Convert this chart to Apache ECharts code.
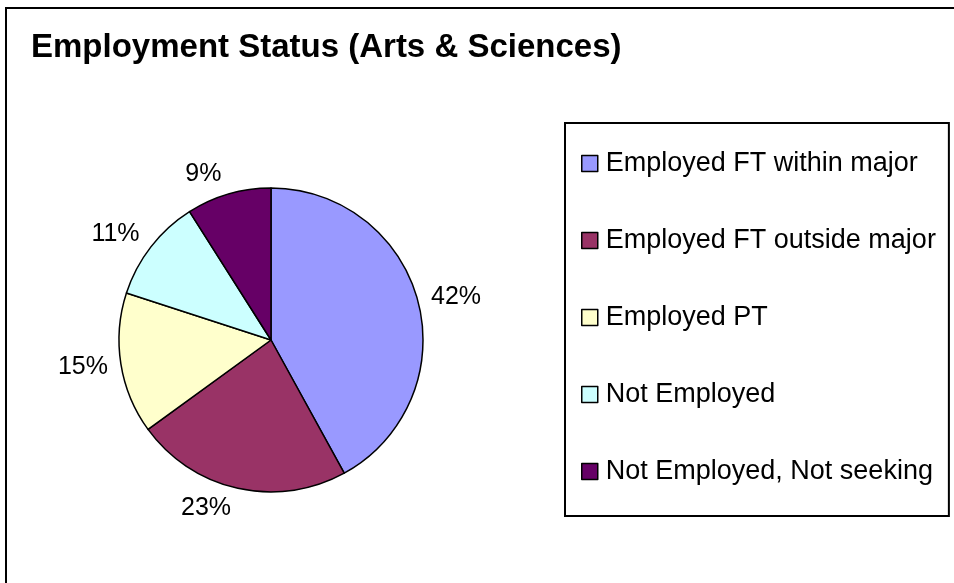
<!DOCTYPE html>
<html>
<head>
<meta charset="utf-8">
<script src="https://cdn.jsdelivr.net/npm/echarts@6/dist/echarts.min.js"></script>
<style>
  html, body { margin: 0; padding: 0; background: #fff; }
  #chart { width: 954px; height: 583px; }
</style>
</head>
<body>
<div id="chart"></div>
<script>
// data
const categories = [
  'Employed FT within major',
  'Employed FT outside major',
  'Employed PT',
  'Not Employed',
  'Not Employed, Not seeking'
]
const shares = [42, 23, 15, 11, 9]
const colors = ['#9999FF', '#993366', '#FFFFCC', '#CCFFFF', '#660066']

const total = shares.reduce((a, b) => a + b, 0)
// mid angle of each slice (clockwise from 12 o'clock), used to nudge labels off the rim like Excel does
const midAngle = (i) => {
  let before = 0
  for (let k = 0; k < i; k++) before += shares[k]
  return (before + shares[i] / 2) / total * Math.PI * 2
}

const myChart = echarts.init(document.getElementById('chart'))
const font = "'Liberation Sans', Arial, sans-serif"

const options = {
  animation: false,
  color: colors,
  title: {
    text: 'Employment Status (Arts & Sciences)',
    left: 31,
    top: 31,
    padding: 0,
    textStyle: { fontFamily: font, fontSize: 33, fontWeight: 'bold', color: '#000', lineHeight: 33 }
  },
  legend: {
    orient: 'vertical',
    left: 565,
    top: 123,
    padding: [27, 13, 31, 16],
    borderColor: '#000',
    borderWidth: 2,
    itemWidth: 16,
    itemHeight: 16,
    itemGap: 50,
    icon: 'rect',
    selectedMode: false,
    itemStyle: { borderColor: '#000', borderWidth: 1.5 },
    textStyle: { fontFamily: font, fontSize: 27, lineHeight: 27, color: '#000', padding: [0, 0, 0, 3] },
    data: categories
  },
  graphic: [
    {
      type: 'rect',
      shape: { x: 6, y: 8, width: 1200, height: 1200 },
      style: { fill: 'none', stroke: '#000', lineWidth: 2 },
      silent: true
    }
  ],
  series: [
    {
      type: 'pie',
      center: [271, 340],
      radius: 152,
      startAngle: 90,
      clockwise: true,
      avoidLabelOverlap: false,
      itemStyle: { borderColor: '#000', borderWidth: 1.5 },
      label: {
        show: true,
        position: 'outside',
        formatter: '{d}%',
        fontFamily: font,
        fontSize: 25,
        color: '#000'
      },
      labelLine: { show: false, length: 8, length2: 0 },
      labelLayout: (p) => {
        const a = midAngle(p.dataIndex)
        return { dy: -Math.cos(a) * p.labelRect.height / 2 }
      },
      emphasis: { disabled: true },
      data: categories.map((name, i) => ({ name, value: shares[i] }))
    }
  ]
}

myChart.setOption(options)
</script>
</body>
</html>
